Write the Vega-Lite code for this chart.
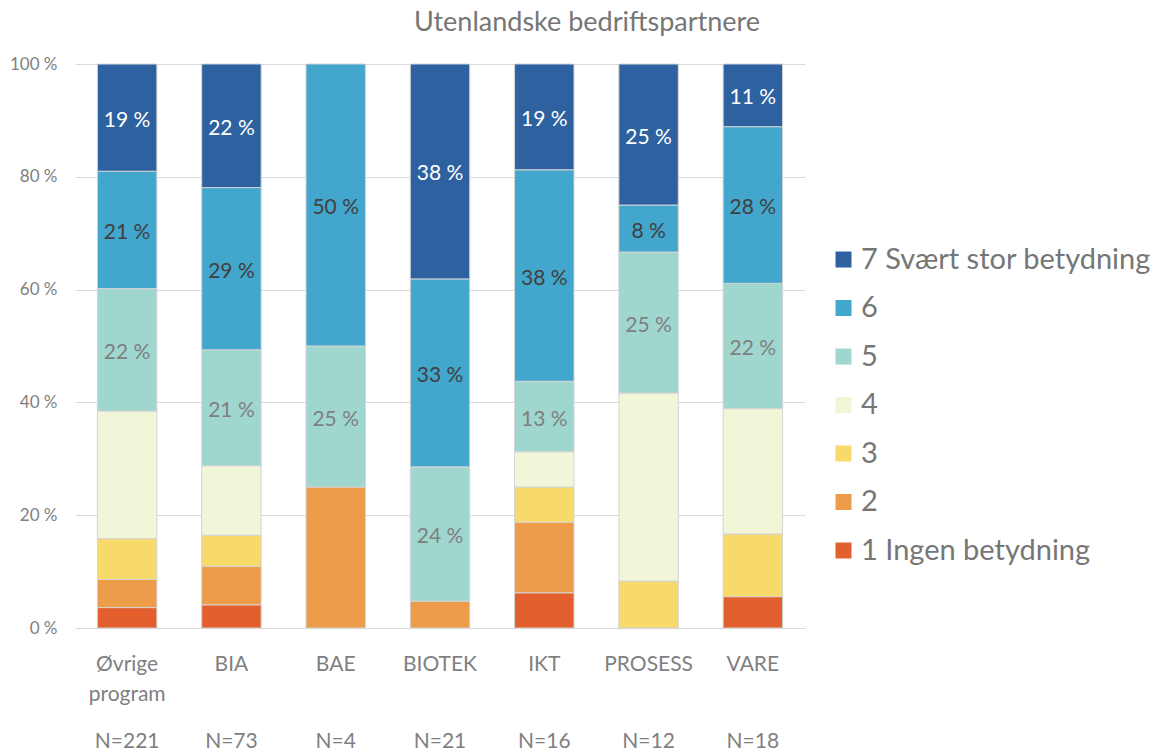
{
  "$schema": "https://vega.github.io/schema/vega-lite/v6.json",
  "autosize": "none",
  "width": 730,
  "height": 564,
  "padding": {"left": 75, "top": 64, "right": 353, "bottom": 123},
  "background": "white",
  "config": {
    "view": {"stroke": null},
    "font": "Lato",
    "legend": {"padding": 0}
  },
  "title": {
    "text": "Utenlandske bedriftspartnere",
    "fontSize": 27,
    "fontWeight": "normal",
    "color": "#767676",
    "font": "Lato",
    "anchor": "middle",
    "frame": "group",
    "dx": 147,
    "baseline": "alphabetic",
    "offset": -3
  },
  "data": {
    "values": [
      {"program": "Øvrige program", "level": 1, "kategori": "1 Ingen betydning", "pct": 3.62, "lab": ""},
      {"program": "Øvrige program", "level": 2, "kategori": "2", "pct": 4.98, "lab": ""},
      {"program": "Øvrige program", "level": 3, "kategori": "3", "pct": 7.24, "lab": ""},
      {"program": "Øvrige program", "level": 4, "kategori": "4", "pct": 22.62, "lab": ""},
      {"program": "Øvrige program", "level": 5, "kategori": "5", "pct": 21.72, "lab": "22 %"},
      {"program": "Øvrige program", "level": 6, "kategori": "6", "pct": 20.81, "lab": "21 %"},
      {"program": "Øvrige program", "level": 7, "kategori": "7 Svært stor betydning", "pct": 19.0, "lab": "19 %"},
      {"program": "BIA", "level": 1, "kategori": "1 Ingen betydning", "pct": 4.11, "lab": ""},
      {"program": "BIA", "level": 2, "kategori": "2", "pct": 6.85, "lab": ""},
      {"program": "BIA", "level": 3, "kategori": "3", "pct": 5.48, "lab": ""},
      {"program": "BIA", "level": 4, "kategori": "4", "pct": 12.33, "lab": ""},
      {"program": "BIA", "level": 5, "kategori": "5", "pct": 20.55, "lab": "21 %"},
      {"program": "BIA", "level": 6, "kategori": "6", "pct": 28.77, "lab": "29 %"},
      {"program": "BIA", "level": 7, "kategori": "7 Svært stor betydning", "pct": 21.91, "lab": "22 %"},
      {"program": "BAE", "level": 2, "kategori": "2", "pct": 25.0, "lab": ""},
      {"program": "BAE", "level": 5, "kategori": "5", "pct": 25.0, "lab": "25 %"},
      {"program": "BAE", "level": 6, "kategori": "6", "pct": 50.0, "lab": "50 %"},
      {"program": "BIOTEK", "level": 2, "kategori": "2", "pct": 4.76, "lab": ""},
      {"program": "BIOTEK", "level": 5, "kategori": "5", "pct": 23.81, "lab": "24 %"},
      {"program": "BIOTEK", "level": 6, "kategori": "6", "pct": 33.33, "lab": "33 %"},
      {"program": "BIOTEK", "level": 7, "kategori": "7 Svært stor betydning", "pct": 38.1, "lab": "38 %"},
      {"program": "IKT", "level": 1, "kategori": "1 Ingen betydning", "pct": 6.25, "lab": ""},
      {"program": "IKT", "level": 2, "kategori": "2", "pct": 12.5, "lab": ""},
      {"program": "IKT", "level": 3, "kategori": "3", "pct": 6.25, "lab": ""},
      {"program": "IKT", "level": 4, "kategori": "4", "pct": 6.25, "lab": ""},
      {"program": "IKT", "level": 5, "kategori": "5", "pct": 12.5, "lab": "13 %"},
      {"program": "IKT", "level": 6, "kategori": "6", "pct": 37.5, "lab": "38 %"},
      {"program": "IKT", "level": 7, "kategori": "7 Svært stor betydning", "pct": 18.75, "lab": "19 %"},
      {"program": "PROSESS", "level": 3, "kategori": "3", "pct": 8.33, "lab": ""},
      {"program": "PROSESS", "level": 4, "kategori": "4", "pct": 33.33, "lab": ""},
      {"program": "PROSESS", "level": 5, "kategori": "5", "pct": 25.0, "lab": "25 %"},
      {"program": "PROSESS", "level": 6, "kategori": "6", "pct": 8.33, "lab": "8 %"},
      {"program": "PROSESS", "level": 7, "kategori": "7 Svært stor betydning", "pct": 25.0, "lab": "25 %"},
      {"program": "VARE", "level": 1, "kategori": "1 Ingen betydning", "pct": 5.56, "lab": ""},
      {"program": "VARE", "level": 3, "kategori": "3", "pct": 11.11, "lab": ""},
      {"program": "VARE", "level": 4, "kategori": "4", "pct": 22.22, "lab": ""},
      {"program": "VARE", "level": 5, "kategori": "5", "pct": 22.22, "lab": "22 %"},
      {"program": "VARE", "level": 6, "kategori": "6", "pct": 27.78, "lab": "28 %"},
      {"program": "VARE", "level": 7, "kategori": "7 Svært stor betydning", "pct": 11.11, "lab": "11 %"}
    ]
  },
  "resolve": {"axis": {"x": "independent"}},
  "layer": [
    {
      "mark": {"type": "bar", "stroke": "#d4d4d4", "strokeWidth": 1},
      "encoding": {
        "x": {
          "field": "program",
          "type": "nominal",
          "sort": ["Øvrige program", "BIA", "BAE", "BIOTEK", "IKT", "PROSESS", "VARE"],
          "scale": {"paddingInner": 0.43, "paddingOuter": 0.215},
          "axis": {
            "orient": "bottom",
            "title": null,
            "labelAngle": 0,
            "ticks": false,
            "domainColor": "#d9d9d9",
            "domainWidth": 1,
            "labelFont": "Lato",
            "labelFontSize": 21,
            "labelColor": "#7f7f7f",
            "labelBaseline": "alphabetic",
            "labelPadding": 42,
            "labelLineHeight": 30,
            "labelExpr": "datum.value == 'Øvrige program' ? ['Øvrige', 'program'] : datum.value"
          }
        },
        "y": {
          "field": "pct",
          "type": "quantitative",
          "stack": "zero",
          "scale": {"domain": [0, 100], "nice": false},
          "axis": {
            "title": null,
            "values": [0, 20, 40, 60, 80, 100],
            "labelExpr": "datum.value + ' %'",
            "domain": false,
            "ticks": false,
            "gridColor": "#d9d9d9",
            "gridWidth": 1,
            "labelFont": "Lato",
            "labelFontSize": 17,
            "labelColor": "#7f7f7f",
            "labelPadding": 18
          }
        },
        "color": {
          "field": "kategori",
          "type": "nominal",
          "scale": {
            "domain": ["7 Svært stor betydning", "6", "5", "4", "3", "2", "1 Ingen betydning"],
            "range": ["#2e61a0", "#43a6cd", "#9fd7cf", "#f1f6d8", "#f8da6b", "#ed9c4a", "#e35f2d"]
          },
          "legend": {
            "title": null,
            "orient": "none",
            "legendX": 754,
            "legendY": 181,
            "symbolType": "square",
            "symbolSize": 256,
            "symbolStrokeWidth": 0,
            "labelFont": "Lato",
            "labelFontSize": 29,
            "labelColor": "#767676",
            "labelOffset": 3,
            "rowPadding": 18.5,
            "labelLimit": 400
          }
        },
        "order": {"field": "level", "type": "quantitative", "sort": "ascending"}
      }
    },
    {
      "transform": [
        {"stack": "pct", "groupby": ["program"], "sort": [{"field": "level", "order": "ascending"}], "as": ["y0", "y1"]},
        {"fold": ["y0", "y1"], "as": ["edge", "edgeValue"]},
        {"aggregate": [{"op": "mean", "field": "edgeValue", "as": "mid"}], "groupby": ["program", "level", "lab"]},
        {"filter": "datum.lab != ''"}
      ],
      "mark": {"type": "text", "baseline": "middle", "align": "center", "fontSize": 21, "font": "Lato", "dy": 3},
      "encoding": {
        "x": {
          "field": "program",
          "type": "nominal",
          "sort": ["Øvrige program", "BIA", "BAE", "BIOTEK", "IKT", "PROSESS", "VARE"],
          "axis": {
            "orient": "bottom",
            "title": null,
            "domain": false,
            "ticks": false,
            "labelAngle": 0,
            "labelFont": "Lato",
            "labelFontSize": 21,
            "labelColor": "#7f7f7f",
            "labelBaseline": "alphabetic",
            "labelPadding": 119,
            "labelExpr": "{'Øvrige program': 'N=221', 'BIA': 'N=73', 'BAE': 'N=4', 'BIOTEK': 'N=21', 'IKT': 'N=16', 'PROSESS': 'N=12', 'VARE': 'N=18'}[datum.value]"
          }
        },
        "y": {"field": "mid", "type": "quantitative", "axis": {"title": null}},
        "text": {"field": "lab"},
        "color": {
          "condition": [
            {"test": "datum.level === 7", "value": "#ffffff"},
            {"test": "datum.level === 6", "value": "#404040"}
          ],
          "value": "#7f7f7f"
        }
      }
    }
  ]
}
